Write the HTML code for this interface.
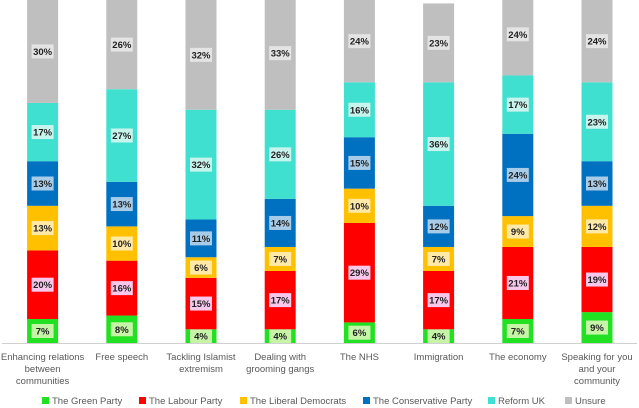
<!DOCTYPE html>
<html><head><meta charset="utf-8"><style>
html,body{margin:0;padding:0;background:#fff;}
svg{display:block;font-family:"Liberation Sans",sans-serif;}
</style></head><body>
<svg id="chart" width="639" height="408" viewBox="0 0 639 408"></svg>
<script>
const categories=[["Enhancing relations","between","communities"],["Free speech"],["Tackling Islamist","extremism"],["Dealing with","grooming gangs"],["The NHS"],["Immigration"],["The economy"],["Speaking for you","and your","community"]];
const seriesNames=["The Green Party","The Labour Party","The Liberal Democrats","The Conservative Party","Reform UK","Unsure"];
const green=[7,8,4,4,6,4,7,9];
const labour=[20,16,15,17,29,17,21,19];
const libdem=[13,10,6,7,10,7,9,12];
const conservative=[13,13,11,14,15,12,24,13];
const reform=[17,27,32,26,16,36,17,23];
const unsure=[30,26,32,33,24,23,24,24];
const series=[green,labour,libdem,conservative,reform,unsure];
const colors=["#22e022","#ff0000","#ffc000","#0070c0","#40e0d0","#bfbfbf"];
const tints=["#c6f5a8","#f8c8ec","#ffe9a8","#a8cce8","#c8f4ee","#e4e4e4"];
const slugs=["green","labour","libdem","conservative","reform","unsure"];
const NS="http://www.w3.org/2000/svg";
const svg=document.getElementById('chart');
const baseY=343, pxPer=3.43, left=3, step=79.2, barW=31;
const xc=i=>left+step*i+step/2;
const y=v=>baseY-v*pxPer;
function mk(t,a){const e=document.createElementNS(NS,t);for(const k in a)e.setAttribute(k,a[k]);svg.appendChild(e);return e;}
const defs=mk('defs',{});
const clip=document.createElementNS(NS,'clipPath');clip.setAttribute('id','pc');defs.appendChild(clip);
const cr=document.createElementNS(NS,'rect');cr.setAttribute('x',0);cr.setAttribute('y',0);cr.setAttribute('width',639);cr.setAttribute('height',baseY);clip.appendChild(cr);
const g=mk('g',{'clip-path':'url(#pc)'});
for(let i=0;i<categories.length;i++){
  let cum=0;
  for(let s=0;s<series.length;s++){
    const v=series[s][i];
    const r=document.createElementNS(NS,'rect');
    r.setAttribute('x',xc(i)-barW/2);r.setAttribute('y',y(cum+v));
    r.setAttribute('width',barW);r.setAttribute('height',v*pxPer);
    r.setAttribute('fill',colors[s]);
    
    
    g.appendChild(r);
    const cy=y(cum+v/2);
    const lb=document.createElementNS(NS,'rect');
    lb.setAttribute('x',xc(i)-11);lb.setAttribute('y',cy-7);lb.setAttribute('width',22);lb.setAttribute('height',14);
    lb.setAttribute('fill',tints[s]);
    
    
    g.appendChild(lb);
    const t=document.createElementNS(NS,'text');
    t.setAttribute('x',xc(i));t.setAttribute('y',cy+3.5);t.setAttribute('text-anchor','middle');
    t.setAttribute('font-size','9.5');t.setAttribute('font-weight','bold');t.setAttribute('fill','#222');
    t.textContent=v+'%';
    
    
    g.appendChild(t);
    cum+=v;
  }
  categories[i].forEach((ln,k)=>{
    const t=mk('text',{x:xc(i),y:360+k*12,'text-anchor':'middle','font-size':'9.5',fill:'#595959'});
    t.textContent=ln;
    
    
  });
}
const ax=mk('line',{x1:2,y1:baseY+0.5,x2:637,y2:baseY+0.5,stroke:'#d0d0d0','stroke-width':1});


const legX=[42,139,240,363,488,565];
seriesNames.forEach((n,s)=>{
  const r=mk('rect',{x:legX[s],y:397,width:7,height:7,fill:colors[s]});
  
  
  const t=mk('text',{x:legX[s]+10,y:404,'font-size':'9.5',fill:'#595959'});
  t.textContent=n;
  
  
});
</script>
</body></html>
